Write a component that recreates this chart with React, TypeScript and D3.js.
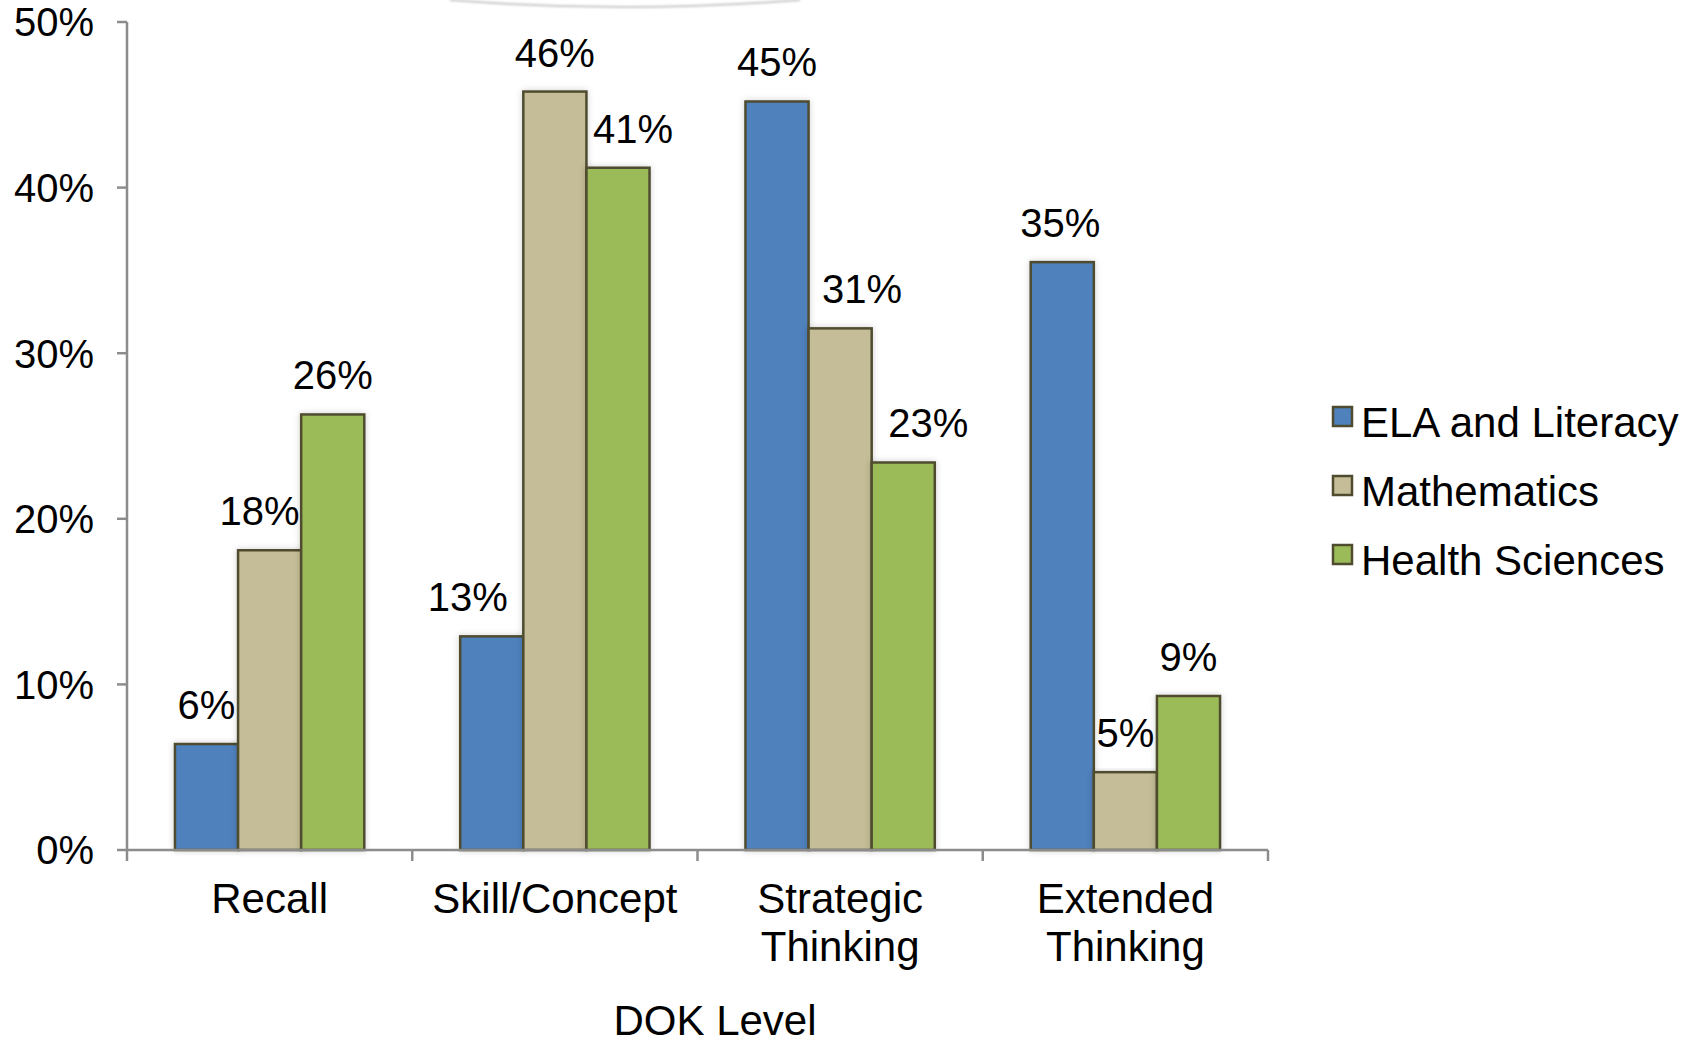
import React from "react";
import * as d3 from "d3";

const categories: string[][] = [["Recall"], ["Skill/Concept"], ["Strategic", "Thinking"], ["Extended", "Thinking"]];
const seriesNames = ["ELA and Literacy", "Mathematics", "Health Sciences"];
const elaValues = [6.4, 12.9, 45.2, 35.5];
const mathValues = [18.1, 45.8, 31.5, 4.7];
const healthValues = [26.3, 41.2, 23.4, 9.3];
const elaLabels = ["6%", "13%", "45%", "35%"];
const mathLabels = ["18%", "46%", "31%", "5%"];
const healthLabels = ["26%", "41%", "23%", "9%"];
// horizontal nudges of the data labels (px), as placed in the original
const elaLabelShift = [0, -24, 0, -2];
const mathLabelShift = [-10, 0, 22, 0];
const healthLabelShift = [0, 15, 25, 0];
const yTicks = [0, 10, 20, 30, 40, 50];
const colors = ["#4f81bd", "#c4bd97", "#9bbb59"];

export default function App() {
  const W = 1692, H = 1044;
  const x0 = 127, x1 = 1268, yBase = 850, yTop = 22;
  const catKeys = categories.map((c) => c.join(" "));
  const x = d3.scaleBand<string>().domain(catKeys).range([x0, x1]).padding(0);
  const xs = d3.scaleBand<string>().domain(seriesNames).range([0, x.bandwidth()]).paddingInner(0).paddingOuter(0.76);
  const y = d3.scaleLinear().domain([0, 50]).range([yBase, yTop]);
  const vals = [elaValues, mathValues, healthValues];
  const labs = [elaLabels, mathLabels, healthLabels];
  const shifts = [elaLabelShift, mathLabelShift, healthLabelShift];
  const font = "Liberation Sans, Arial, sans-serif";
  const stroke = "#4f4b2f";
  const axisColor = "#8c8c8c";
  const boundaries = d3.range(categories.length + 1).map((i) => x0 + i * x.step());

  return (
    <div style={{ position: "absolute", left: 0, top: 0 }}>
      <svg width={W} height={H} style={{ display: "block", background: "#fff" }} fontFamily={font}>
        <defs>
          <filter id="sh" x="-20%" y="-5%" width="140%" height="110%">
            <feDropShadow dx="0" dy="0" stdDeviation="3" floodColor="#000" floodOpacity="0.18" />
          </filter>
          <filter id="blur" x="-10%" y="-100%" width="120%" height="300%">
            <feGaussianBlur stdDeviation="1.2" />
          </filter>
        </defs>
        {/* faint arc artifact at top */}
        <path d="M 450 0 Q 625 14 800 0" fill="none" stroke="#c8c8c8" strokeWidth={2} filter="url(#blur)" />

        {/* bars */}
        {vals.map((arr, si) =>
          arr.map((v, ci) => {
            const bx = (x(catKeys[ci]) as number) + (xs(seriesNames[si]) as number);
            return (
              <rect
                key={`b${si}-${ci}`}
                x={bx}
                y={y(v)}
                width={xs.bandwidth()}
                height={yBase - y(v)}
                fill={colors[si]}
                stroke={stroke}
                strokeWidth={2.5}
                filter="url(#sh)"
              />
            );
          })
        )}

        {/* axes */}
        <line x1={x0} x2={x0} y1={yTop} y2={yBase} stroke={axisColor} strokeWidth={2.5} />
        {yTicks.map((t) => (
          <g key={`yt${t}`}>
            <line x1={x0 - 10} x2={x0} y1={y(t)} y2={y(t)} stroke={axisColor} strokeWidth={2.5} />
            <text x={94} y={y(t)} dy="0.36em" textAnchor="end" fontSize={40} fill="#000">{`${t}%`}</text>
          </g>
        ))}
        <line x1={x0} x2={x1} y1={yBase} y2={yBase} stroke={axisColor} strokeWidth={2.5} />
        {boundaries.map((bx, i) => (
          <line key={`xt${i}`} x1={bx} x2={bx} y1={yBase} y2={yBase + 11} stroke={axisColor} strokeWidth={2.5} />
        ))}

        {/* data labels */}
        {labs.map((arr, si) =>
          arr.map((l, ci) => {
            const cx = (x(catKeys[ci]) as number) + (xs(seriesNames[si]) as number) + xs.bandwidth() / 2 + shifts[si][ci];
            return (
              <text key={`l${si}-${ci}`} x={cx} y={y(vals[si][ci]) - 25} textAnchor="middle" fontSize={40} fill="#000">
                {l}
              </text>
            );
          })
        )}

        {/* category labels */}
        {categories.map((lines, ci) => (
          <text key={`c${ci}`} textAnchor="middle" fontSize={42} fill="#000">
            {lines.map((ln, li) => (
              <tspan key={li} x={(x(catKeys[ci]) as number) + x.bandwidth() / 2} y={913 + li * 48}>
                {ln}
              </tspan>
            ))}
          </text>
        ))}

        {/* axis title */}
        <text x={715} y={1035} textAnchor="middle" fontSize={42} fill="#000">DOK Level</text>

        {/* legend */}
        {seriesNames.map((s, i) => (
          <g key={`lg${i}`}>
            <rect x={1333} y={407 + i * 69} width={19} height={19} fill={colors[i]} stroke={stroke} strokeWidth={2.5} />
            <text x={1361} y={437 + i * 69} fontSize={42} fill="#000">{s}</text>
          </g>
        ))}
      </svg>
    </div>
  );
}
